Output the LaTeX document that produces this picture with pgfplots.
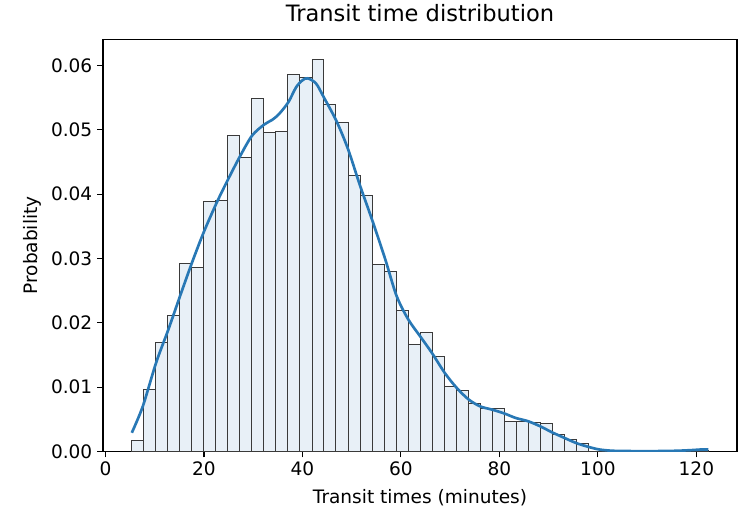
\documentclass[border=0pt]{standalone}
\usepackage{pgfplots}
\pgfplotsset{compat=1.18}
\usepackage{fontspec}
\setmainfont{DejaVu Sans}

\definecolor{barfill}{RGB}{232,240,247}
\definecolor{baredge}{RGB}{58,58,58}
\definecolor{kdeblue}{RGB}{40,120,181}

% histogram: left bin edge, density (last row closes the final bin)
\pgfplotstableread{
edge   dens
5.34   0.0017
7.78   0.0096
10.22  0.0169
12.66  0.0211
15.10  0.0292
17.54  0.0286
19.97  0.0389
22.41  0.0390
24.85  0.0491
27.29  0.0457
29.73  0.0548
32.17  0.0496
34.61  0.0498
37.05  0.0586
39.49  0.0581
41.93  0.0610
44.36  0.0540
46.80  0.0511
49.24  0.0429
51.68  0.0398
54.12  0.0290
56.56  0.0279
59.00  0.0219
61.44  0.0166
63.88  0.0185
66.32  0.0148
68.75  0.0101
71.19  0.0094
73.63  0.0074
76.07  0.0067
78.51  0.0067
80.95  0.0047
83.39  0.0047
85.83  0.0045
88.27  0.0043
90.71  0.0026
93.14  0.0018
95.58  0.0013
98.02  0
100.46 0
102.90 0
105.34 0
107.78 0
110.22 0
112.66 0
115.10 0
117.53 0
119.97 0.0002
122.41 0.0002
}\histdata

% kde curve
\pgfplotstableread{
x      y
5.34   0.0029
7.57   0.0070
10.28  0.0138
12.79  0.0190
15.16  0.0242
17.59  0.0294
19.96  0.0341
22.60  0.0387
24.96  0.0424
27.40  0.0460
29.77  0.0491
32.20  0.0508
33.96  0.0516
35.30  0.0525
37.14  0.0543
38.70  0.0566
40.00  0.0577
41.06  0.0580
42.75  0.0572
44.30  0.0551
46.94  0.0513
49.30  0.0469
51.70  0.0413
54.10  0.0361
56.80  0.0299
59.10  0.0242
61.50  0.0205
63.90  0.0179
66.30  0.0153
68.90  0.0122
71.30  0.0099
73.70  0.0081
76.10  0.0070
78.50  0.0065
81.00  0.0059
83.30  0.0052
85.80  0.0047
88.30  0.0039
90.60  0.0030
93.20  0.0021
95.60  0.0013
98.10  0.0007
100.30 0.0003
103.00 0.0001
107.00 0.00005
112.00 0.00005
116.00 0.0001
119.00 0.0002
121.00 0.0003
122.41 0.0003
}\kdedata

\begin{document}
\begin{tikzpicture}
\begin{axis}[
    name=ax,
    scale only axis,
    width=475.5pt, height=309pt,
    xmin=-0.51, xmax=128.25,
    ymin=0, ymax=0.06405,
    xtick={0,20,40,60,80,100,120},
    ytick={0,0.01,0.02,0.03,0.04,0.05,0.06},
    scaled y ticks=false,
    yticklabel style={/pgf/number format/.cd, fixed, fixed zerofill, precision=2},
    /pgf/number format/assume math mode=true,
    ticklabel style={font=\fontsize{13.9}{16}\selectfont},
    tick align=outside,
    major tick length=4.5pt,
    tick style={black, line width=0.8pt},
    xtick pos=bottom, ytick pos=left,
    axis line style={black, line width=0.9pt},
    title={Transit time distribution},
    title style={font=\fontsize{16.9}{19}\selectfont, at={(axis description cs:0.5,1.0443)}, anchor=center},
    xlabel={Transit times (minutes)},
    xlabel style={font=\fontsize{13.9}{16}\selectfont, at={(axis description cs:0.5,-0.1117)}, anchor=center},
    ylabel={Probability},
    ylabel style={font=\fontsize{13.9}{16}\selectfont, at={(axis description cs:-0.112,0.5)}, anchor=center},
]
\addplot[ybar interval, fill=barfill, draw=baredge, line width=0.7pt] table[x=edge, y=dens] {\histdata};
\addplot[kdeblue, line width=2pt, smooth, tension=0.5] table[x=x, y=y] {\kdedata};
\end{axis}
\path ([xshift=-77.25pt, yshift=-47.25pt]ax.south west) rectangle ([xshift=9pt, yshift=27.75pt]ax.north east);
\end{tikzpicture}
\end{document}
